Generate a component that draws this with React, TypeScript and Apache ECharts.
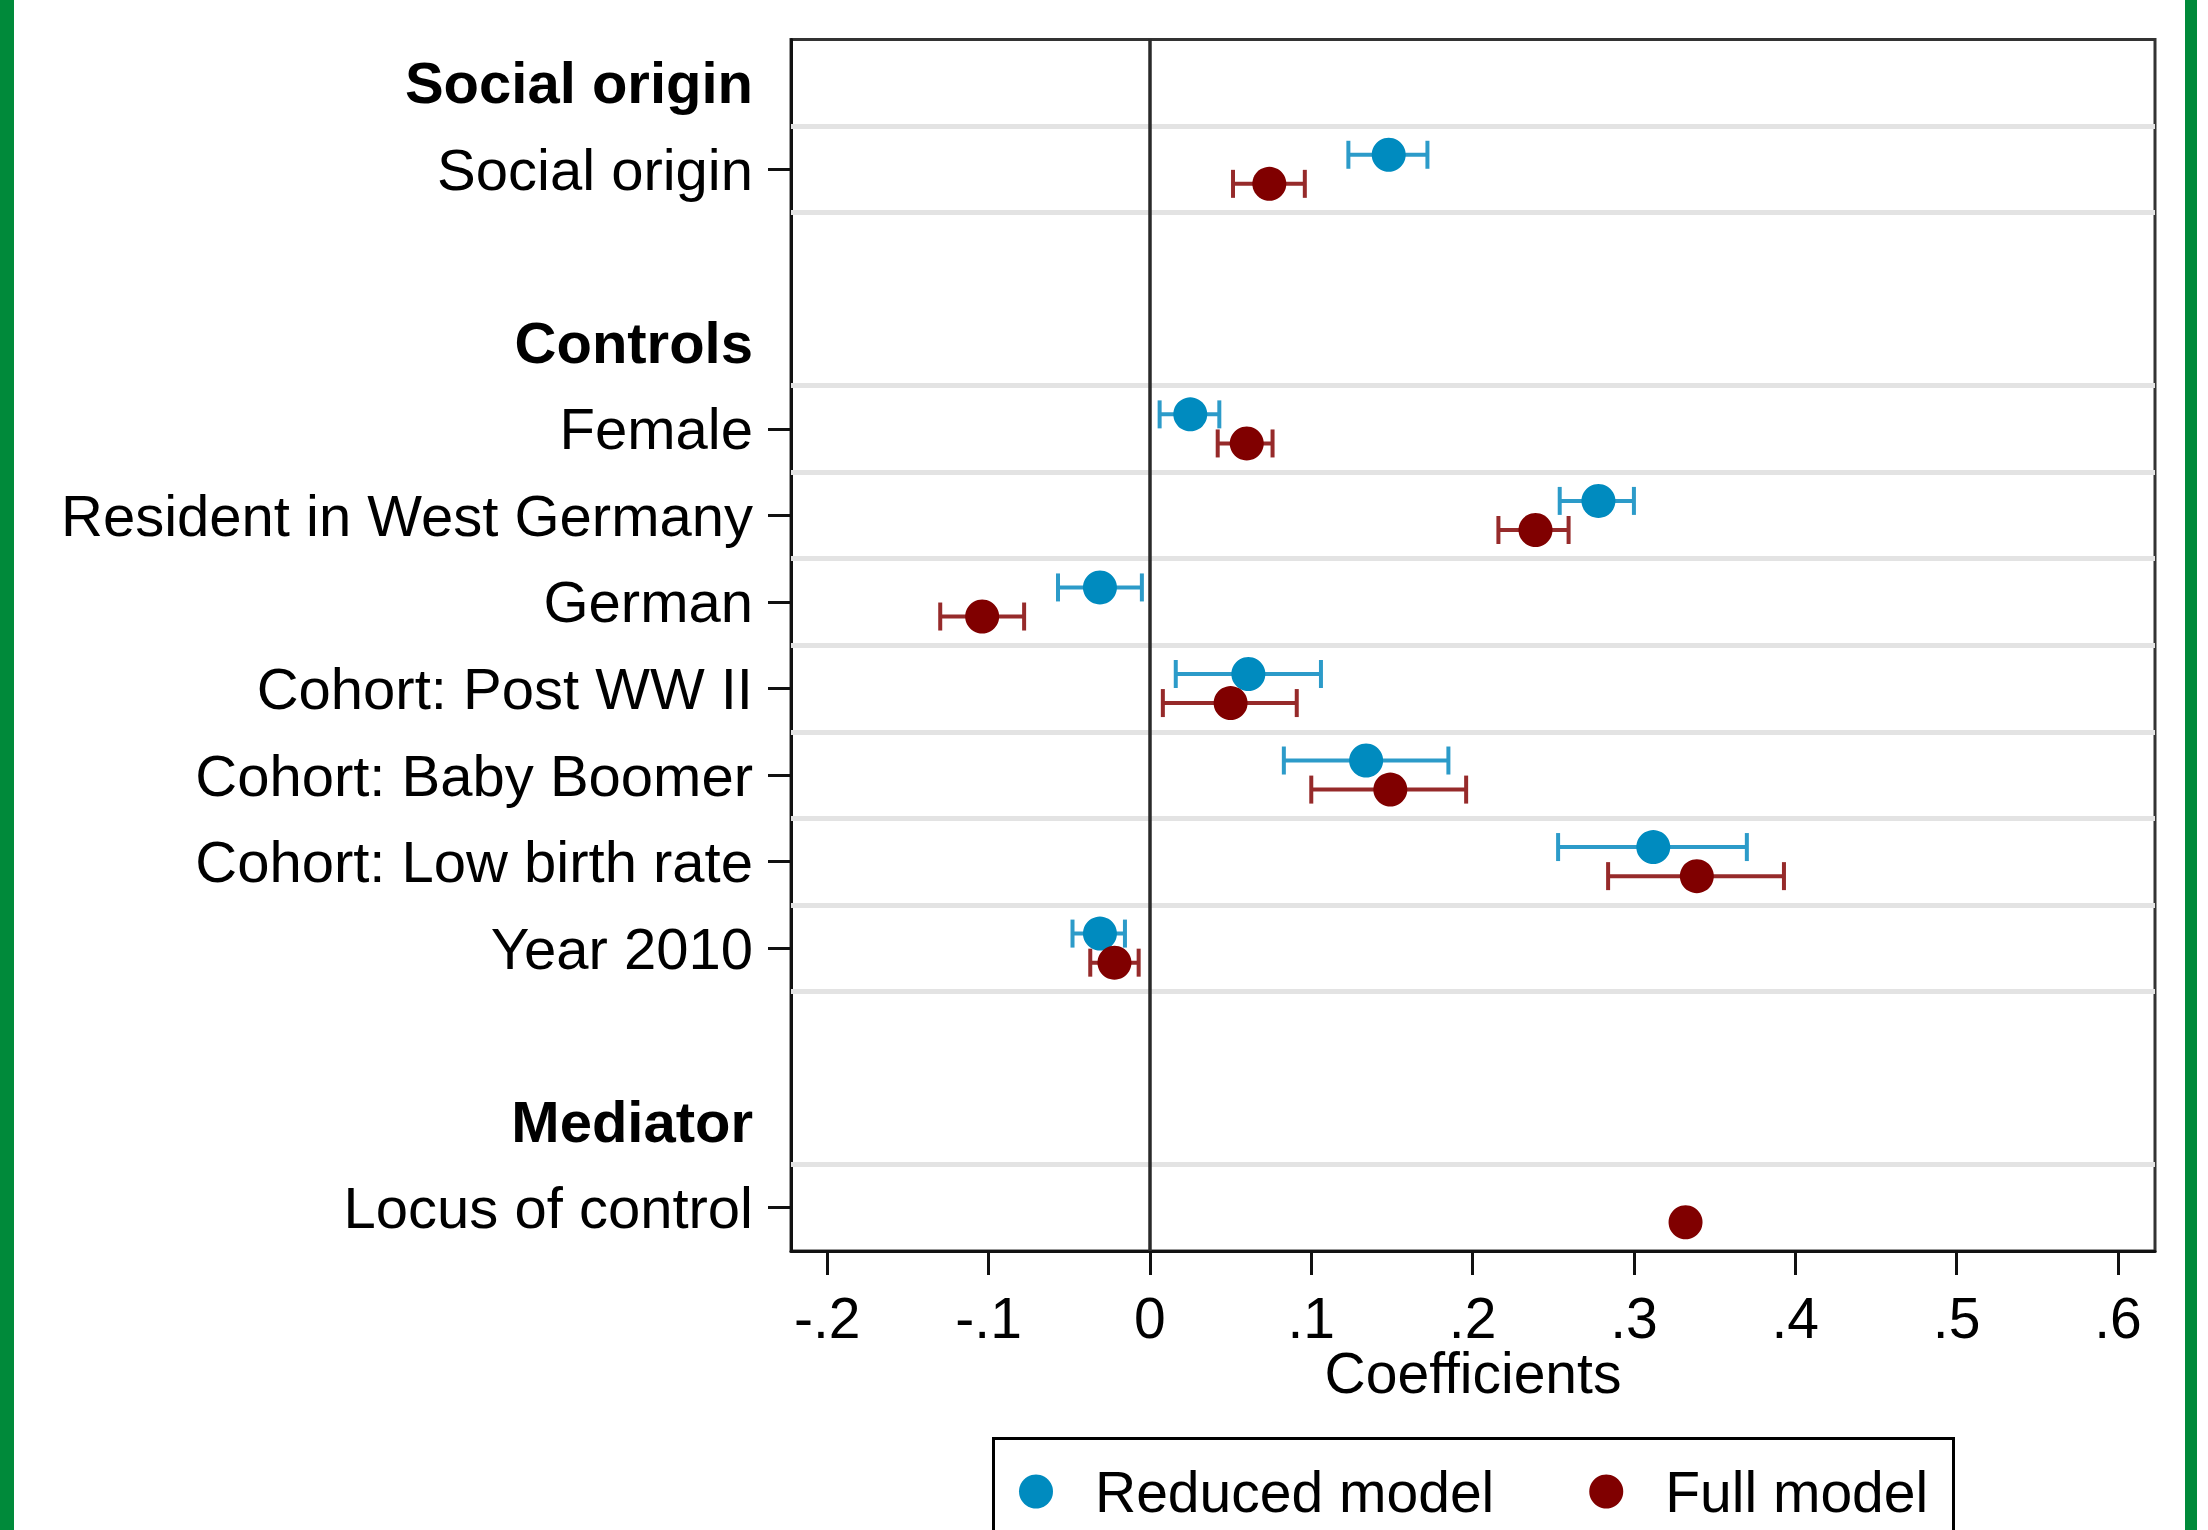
import React, { useEffect, useRef } from "react";
import * as echarts from "echarts";

// Row layout of the y axis (top to bottom); headers are bold, "" = empty slot
const rowLabels = [
  "Social origin",
  "Social origin",
  "",
  "Controls",
  "Female",
  "Resident in West Germany",
  "German",
  "Cohort: Post WW II",
  "Cohort: Baby Boomer",
  "Cohort: Low birth rate",
  "Year 2010",
  "",
  "Mediator",
  "Locus of control",
];
const rowIsHeader = [true, false, false, true, false, false, false, false, false, false, false, false, true, false];

// Coefficient rows (index into rowLabels)
const coefRows = [1, 4, 5, 6, 7, 8, 9, 10, 13];

// Reduced model
const reducedCoef = [0.148, 0.025, 0.278, -0.031, 0.061, 0.134, 0.312, -0.031, null];
const reducedLo = [0.123, 0.006, 0.254, -0.057, 0.016, 0.083, 0.253, -0.048, null];
const reducedHi = [0.172, 0.043, 0.3, -0.005, 0.106, 0.185, 0.37, -0.0155, null];

// Full model
const fullCoef = [0.074, 0.06, 0.239, -0.104, 0.05, 0.149, 0.339, -0.022, 0.332];
const fullLo = [0.0515, 0.042, 0.216, -0.13, 0.008, 0.1, 0.284, -0.037, 0.328];
const fullHi = [0.096, 0.076, 0.2595, -0.078, 0.091, 0.196, 0.393, -0.007, 0.336];

// X axis ticks
const xTicks = [-0.2, -0.1, 0, 0.1, 0.2, 0.3, 0.4, 0.5, 0.6];

const BLUE = "#008bbf";
const BLUE_BAR = "#2c9bc9";
const RED = "#800000";
const RED_BAR = "#962a2a";
const OFFSET = 0.168;
const FONT = "'Liberation Sans', Arial, Helvetica, sans-serif";

function fmtTick(v: number) {
  if (Math.abs(v) < 1e-9) return "0";
  const s = "." + Math.round(Math.abs(v) * 10);
  return v < 0 ? "-" + s : s;
}

export default function App() {
  const ref = useRef<HTMLDivElement>(null);
  useEffect(() => {
    if (!ref.current) return;
    const chart = echarts.init(ref.current, null, { renderer: "svg" });

    const labelValues = rowLabels.map((l, i) => i).filter((i) => rowLabels[i] !== "");
    const tickValues = coefRows.slice();
    // boundaries around each coefficient row
    const gridYs: number[] = [];
    coefRows.forEach((r) => {
      [r - 0.5, r + 0.5].forEach((b) => {
        if (b > -0.5 && b < rowLabels.length - 0.5 && gridYs.indexOf(b) < 0) gridYs.push(b);
      });
    });

    const reducedPts: number[][] = [];
    const reducedBars: number[][] = [];
    const fullPts: number[][] = [];
    const fullBars: number[][] = [];
    coefRows.forEach((r, i) => {
      if (reducedCoef[i] != null) {
        reducedPts.push([reducedCoef[i] as number, r - OFFSET]);
        reducedBars.push([reducedLo[i] as number, reducedHi[i] as number, r - OFFSET]);
      }
      if (fullCoef[i] != null) {
        fullPts.push([fullCoef[i] as number, r + OFFSET]);
        fullBars.push([fullLo[i] as number, fullHi[i] as number, r + OFFSET]);
      }
    });

    const barRender = (color: string) => (params: any, api: any) => {
      const lo = api.value(0);
      const hi = api.value(1);
      const y = api.value(2);
      const p1 = api.coord([lo, y]);
      const p2 = api.coord([hi, y]);
      const h = 14;
      const st = { stroke: color, lineWidth: 4 };
      return {
        type: "group",
        children: [
          { type: "line", shape: { x1: p1[0], y1: p1[1], x2: p2[0], y2: p2[1] }, style: st },
          { type: "line", shape: { x1: p1[0], y1: p1[1] - h, x2: p1[0], y2: p1[1] + h }, style: st },
          { type: "line", shape: { x1: p2[0], y1: p2[1] - h, x2: p2[0], y2: p2[1] + h }, style: st },
        ],
      };
    };

    chart.setOption({
      animation: false,
      backgroundColor: "#ffffff",
      textStyle: { fontFamily: FONT },
      grid: {
        left: 791,
        right: 53,
        top: 39.5,
        bottom: 279,
        show: true,
        borderColor: "#333333",
        borderWidth: 3,
        backgroundColor: "#ffffff",
        containLabel: false,
        outerBoundsMode: "none",
      },
      xAxis: {
        type: "value",
        min: -0.2225,
        max: 0.623,
        name: "Coefficients",
        nameLocation: "middle",
        nameGap: 93,
        nameMoveOverlap: false,
        nameTextStyle: { fontSize: 57, color: "#000", fontFamily: FONT },
        axisLine: { show: true, onZero: false, lineStyle: { color: "#111", width: 3 } },
        axisTick: {
          show: true,
          customValues: xTicks,
          length: 24,
          lineStyle: { color: "#111", width: 3 },
        },
        axisLabel: {
          customValues: xTicks,
          formatter: (v: number) => fmtTick(v),
          fontSize: 57,
          color: "#000",
          margin: 38,
          fontFamily: FONT,
        },
        splitLine: { show: false },
      },
      yAxis: {
        type: "value",
        inverse: true,
        min: -0.5,
        max: rowLabels.length - 0.5,
        axisLine: { show: true, onZero: false, lineStyle: { color: "#111", width: 3 } },
        axisTick: {
          show: true,
          customValues: tickValues,
          length: 23,
          lineStyle: { color: "#111", width: 3 },
        },
        axisLabel: {
          customValues: labelValues,
          formatter: (v: number) => {
            const i = Math.round(v);
            return rowIsHeader[i] ? `{b|${rowLabels[i]}}` : rowLabels[i];
          },
          fontSize: 58,
          color: "#000",
          margin: 38,
          fontFamily: FONT,
          rich: {
            b: { fontSize: 58, fontWeight: "bold", color: "#000", fontFamily: FONT },
          },
        },
        splitLine: { show: false },
      },
      legend: {
        data: [
          { name: "Reduced model", icon: "circle" },
          { name: "Full model", icon: "circle" },
        ],
        left: 1019,
        top: 1463,
        padding: 0,
        itemWidth: 34,
        itemHeight: 34,
        itemGap: 95,
        textStyle: { fontSize: 57, color: "#000", fontFamily: FONT, padding: [0, 0, 0, 37] },
      },
      graphic: [
        { type: "rect", shape: { x: 0, y: 0, width: 14, height: 1530 }, style: { fill: "#008a3a" }, z: 100 },
        { type: "rect", shape: { x: 2185, y: 0, width: 12, height: 1530 }, style: { fill: "#008a3a" }, z: 100 },
        {
          type: "rect",
          shape: { x: 993.5, y: 1438.5, width: 960, height: 200 },
          style: { fill: "none", stroke: "#000", lineWidth: 3 },
          z: 50,
        },
      ],
      series: [
        {
          name: "_grid",
          type: "scatter",
          data: [],
          silent: true,
          z: 1,
          markLine: {
            silent: true,
            symbol: "none",
            z: 1,
            label: { show: false },
            lineStyle: { color: "#e3e3e3", width: 5, type: "solid" },
            data: gridYs.map((y) => ({ yAxis: y })),
          },
        },
        {
          name: "_zero",
          type: "scatter",
          data: [],
          silent: true,
          z: 2,
          markLine: {
            silent: true,
            symbol: "none",
            z: 2,
            label: { show: false },
            lineStyle: { color: "#2a2a2a", width: 3.5, type: "solid" },
            data: [{ xAxis: 0 }],
          },
        },
        {
          name: "Reduced model",
          type: "custom",
          z: 3,
          renderItem: barRender(BLUE_BAR),
          encode: { x: [0, 1], y: 2 },
          data: reducedBars,
          itemStyle: { color: BLUE },
        },
        {
          name: "Full model",
          type: "custom",
          z: 3,
          renderItem: barRender(RED_BAR),
          encode: { x: [0, 1], y: 2 },
          data: fullBars,
          itemStyle: { color: RED },
        },
        {
          name: "Reduced model",
          type: "scatter",
          z: 4,
          symbol: "circle",
          symbolSize: 34,
          itemStyle: { color: BLUE, opacity: 1 },
          data: reducedPts,
        },
        {
          name: "Full model",
          type: "scatter",
          z: 4,
          symbol: "circle",
          symbolSize: 34,
          itemStyle: { color: RED, opacity: 1 },
          data: fullPts,
        },
      ],
    });
    return () => chart.dispose();
  }, []);

  return (
    <div
      ref={ref}
      style={{ position: "absolute", left: 0, top: 0, width: 2208, height: 1530 }}
    />
  );
}
